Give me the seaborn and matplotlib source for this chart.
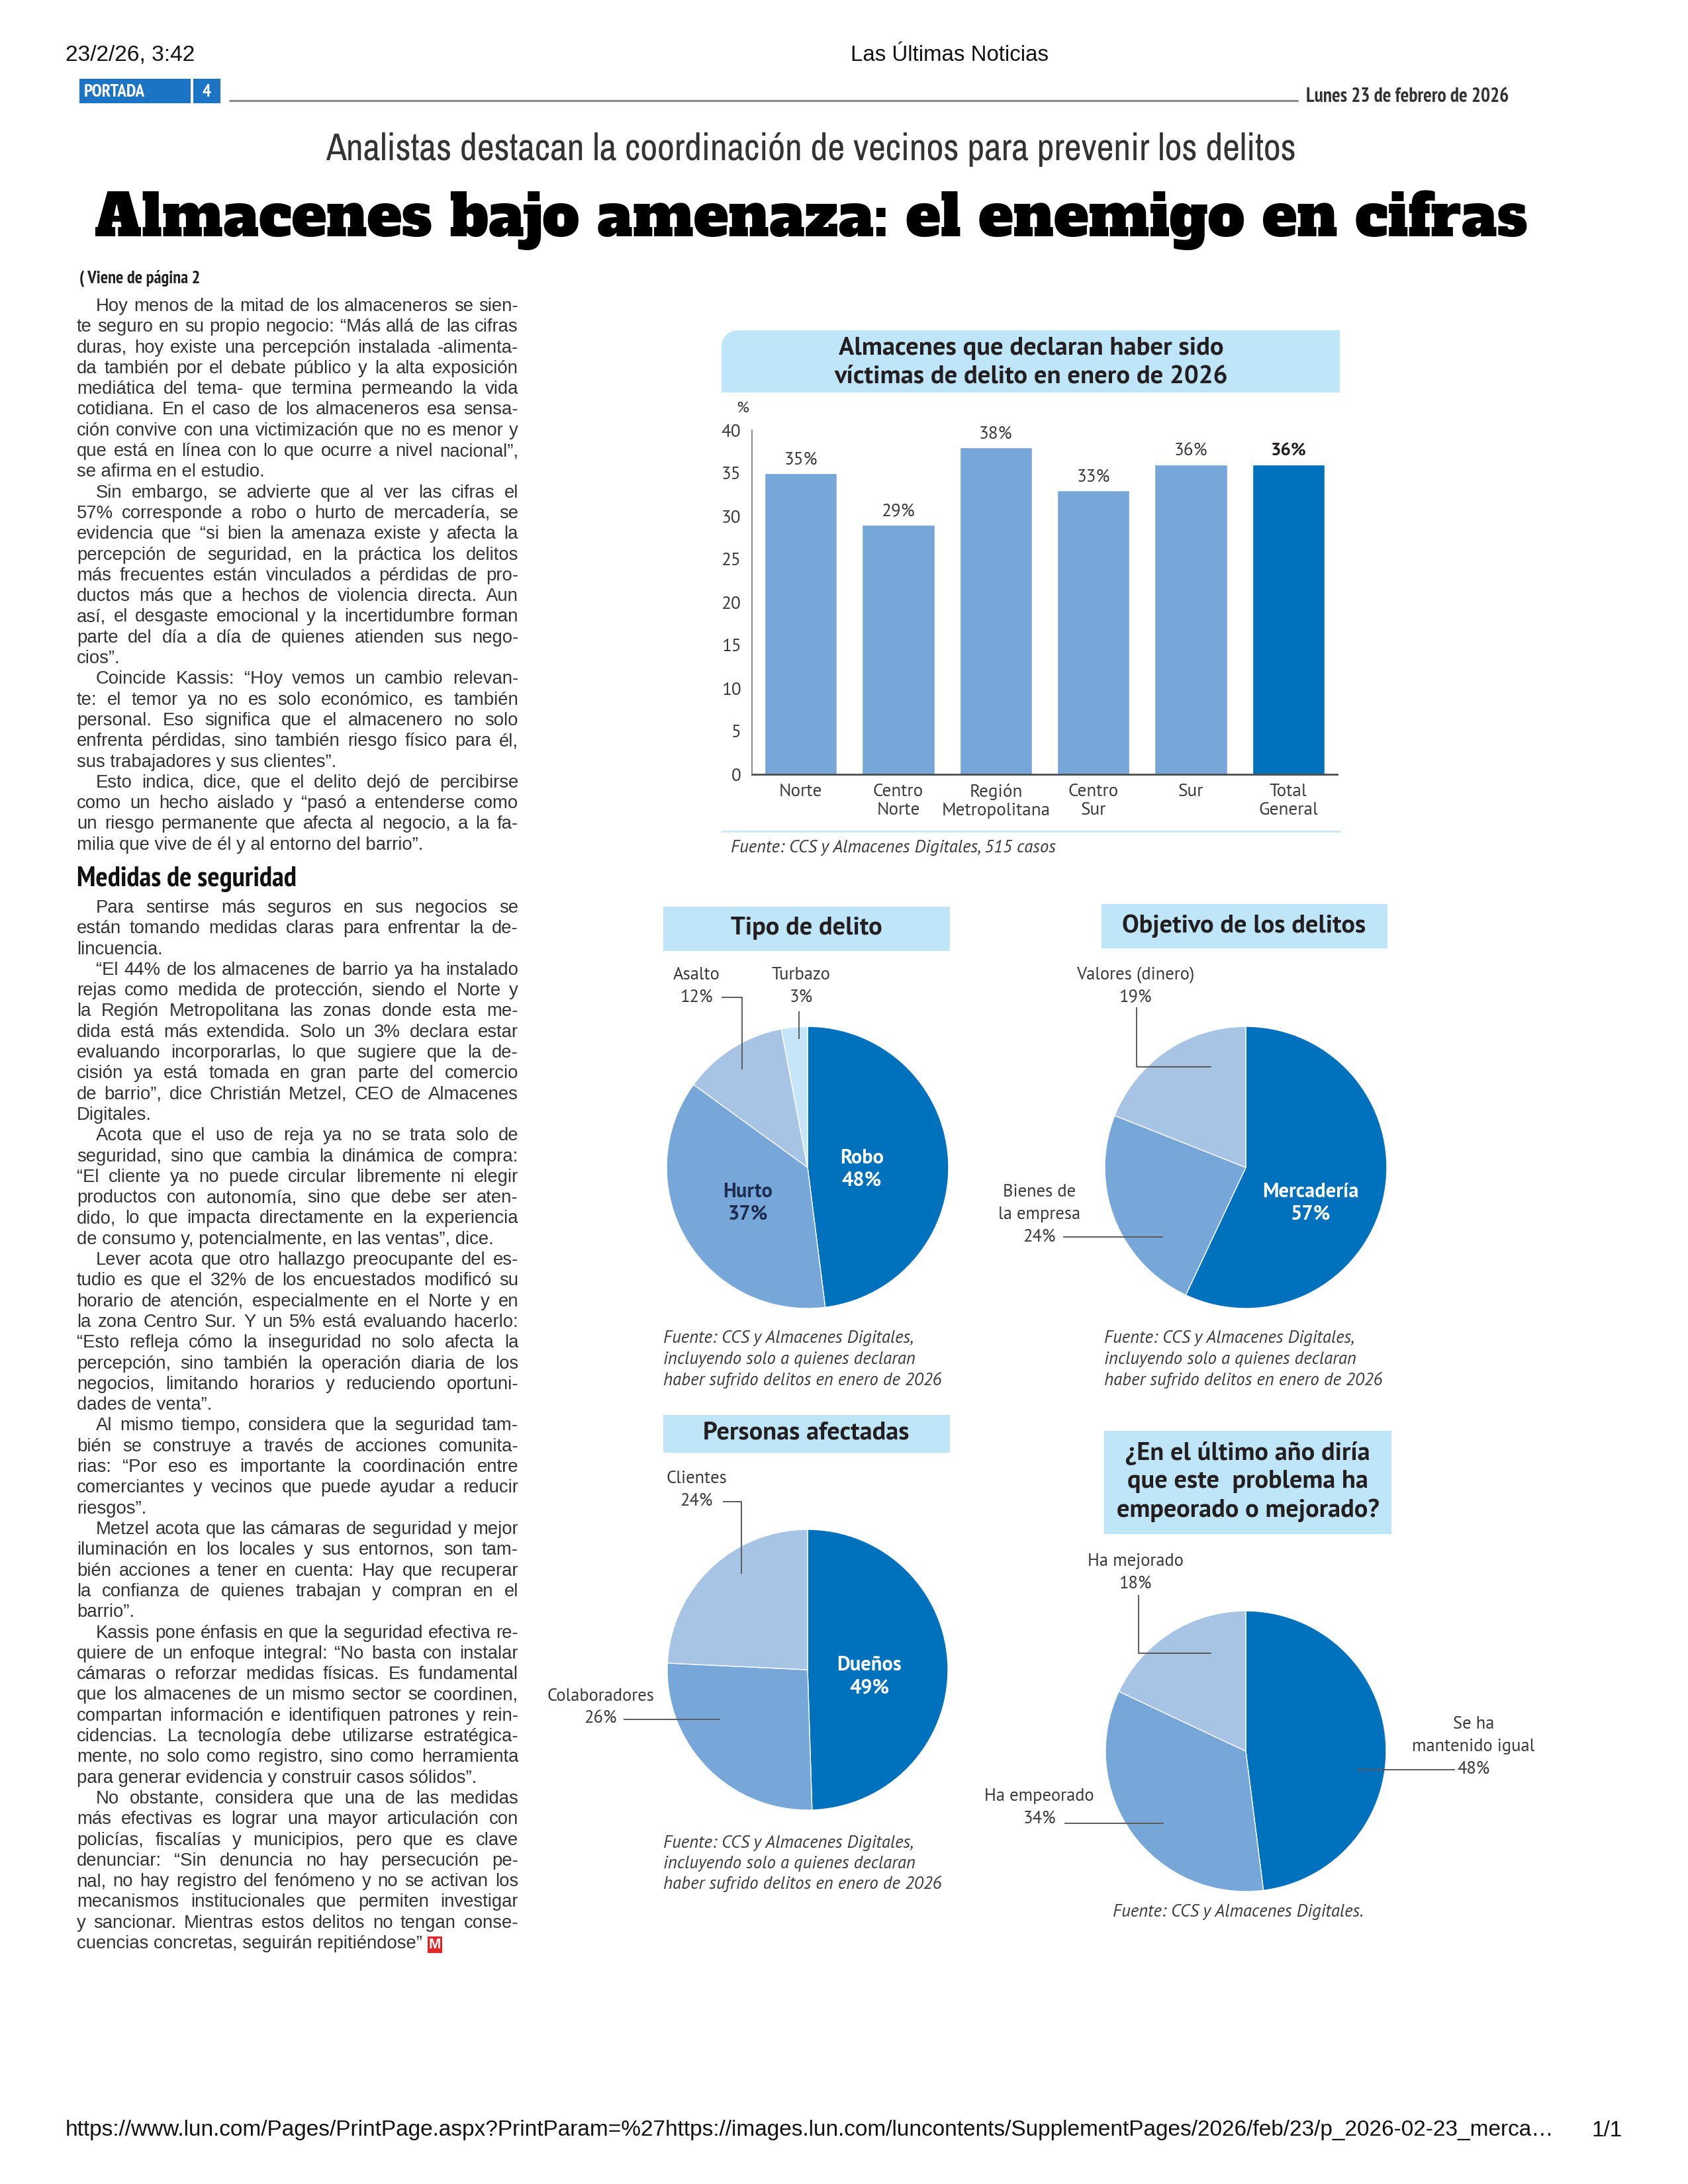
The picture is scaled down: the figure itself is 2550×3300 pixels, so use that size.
import numpy as np
import matplotlib
matplotlib.use("Agg")
import matplotlib.pyplot as plt
import seaborn as sns
from matplotlib.font_manager import FontProperties
from matplotlib.patches import Rectangle, FancyBboxPatch

# ---------------- chart data ----------------
REGIONS = ["Norte", "Centro\nNorte", "Región\nMetropolitana", "Centro\nSur", "Sur", "Total\nGeneral"]
VICTIM_PCT = [35, 29, 38, 33, 36, 36]

CRIME_TYPES = ["Robo", "Hurto", "Asalto", "Turbazo"]
CRIME_PCT = [48, 37, 12, 3]

TARGETS = ["Mercadería", "Bienes de\nla empresa", "Valores (dinero)"]
TARGET_PCT = [57, 24, 19]

AFFECTED = ["Dueños", "Colaboradores", "Clientes"]
AFFECTED_PCT = [49, 26, 24]

TREND = ["Se ha\nmantenido igual", "Ha empeorado", "Ha mejorado"]
TREND_PCT = [48, 34, 18]

# ---------------- colours / fonts ----------------
INK = "#3a3a3a"
TITLE_INK = "#231f20"
BODY = "#333333"
LIGHT = "#77a7d9"
DARK = "#0071bc"
PALE = "#a8c4e4"
PALEST = "#c6e5f8"
BOX = "#bee5f8"
AXIS = "#4d4d4d"
LEADER = "#5a5a5a"
HURTO_INK = "#1d2d50"

SANS = ["Liberation Sans", "DejaVu Sans"]
NARROW = ["PT Sans Narrow", "Liberation Sans", "DejaVu Sans"]
NARROW_LIGHT = ["Archivo Narrow", "PT Sans Narrow", "Liberation Sans"]
CHART = ["PT Sans", "Lato", "DejaVu Sans"]
SLAB = ["Alfa Slab One", "DejaVu Serif"]

sns.set_style("white")
plt.rcParams["font.family"] = CHART

W, H = 2550, 3300
fig = plt.figure(figsize=(W / 100, H / 100), dpi=100)
fig.patch.set_facecolor("white")
renderer = fig.canvas.get_renderer()

page = fig.add_axes([0, 0, 1, 1], zorder=5)
page.set_xlim(0, W)
page.set_ylim(H, 0)
page.axis("off")
page.patch.set_alpha(0)


def px_box(x0, y0, x1, y1):
    return [x0 / W, 1 - y1 / H, (x1 - x0) / W, (y1 - y0) / H]


def tw(s, size, family, weight="normal", style="normal"):
    fp = FontProperties(family=family, size=size, weight=weight, style=style)
    return renderer.get_text_width_height_descent(s, fp, ismath=False)[0]


def fit(s, width, family, weight="normal", style="normal"):
    return 100 * width / tw(s, 100, family, weight, style)


def put(x, y, s, size, family=CHART, weight="normal", style="normal",
        color=INK, ha="center", va="center", **kw):
    return page.text(x, y, s, fontsize=size, family=family, fontweight=weight,
                     fontstyle=style, color=color, ha=ha, va=va, **kw)


def stack(x, y0, dy, lines, size, **kw):
    for k, s in enumerate(lines):
        put(x, y0 + k * dy, s, size, **kw)


def leader(xs, ys):
    page.plot(xs, ys, color=LEADER, lw=1.4, solid_capstyle="butt")


def title_box(x0, y0, x1, y1):
    page.add_patch(Rectangle((x0, y0), x1 - x0, y1 - y0, color=BOX, lw=0))


# ---------------- page header ----------------
s = "23/2/26, 3:42"
put(99, 92, s, fit(s, 196, SANS), SANS, color="#111", ha="left", va="baseline")
s = "Las Últimas Noticias"
put(1435, 92, s, fit(s, 299, SANS), SANS, color="#111", va="baseline")

page.add_patch(Rectangle((120, 119), 168, 37, color="#1b74c4", lw=0))
page.add_patch(Rectangle((292, 119), 41, 37, color="#1b74c4", lw=0))
tag = fit("PORTADA", 92, NARROW, "bold")
put(127, 139, "PORTADA", tag, NARROW, "bold", color="white", ha="left")
put(312, 139, "4", tag, NARROW, "bold", color="white")
page.plot([347, 1960], [152, 152], color="#8a8a8a", lw=2.2)
s = "Lunes 23 de febrero de 2026"
put(1973, 146, s, fit(s, 306, NARROW, "bold"), NARROW, "bold", color="#333", ha="left")

s = "Analistas destacan la coordinación de vecinos para prevenir los delitos"
put(1225, 242, s, fit(s, 1467, NARROW_LIGHT), NARROW_LIGHT, color="#333", va="baseline")
s = "Almacenes bajo amenaza: el enemigo en cifras"
put(1225, 357, s, fit(s, 2165, SLAB, "bold"), SLAB, "bold", color="black", va="baseline")

s = "( Viene de página 2"
put(120, 421, s, fit(s, 183, NARROW, "bold"), NARROW, "bold", color="#222", ha="left")

# ---------------- article text ----------------
ARTICLE_A = [
    ["Hoy menos de la mitad de los almaceneros se sien-",
     "te seguro en su propio negocio: “Más allá de las cifras",
     "duras, hoy existe una percepción instalada -alimenta-",
     "da también por el debate público y la alta exposición",
     "mediática del tema- que termina permeando la vida",
     "cotidiana. En el caso de los almaceneros esa sensa-",
     "ción convive con una victimización que no es menor y",
     "que está en línea con lo que ocurre a nivel nacional”,",
     "se afirma en el estudio."],
    ["Sin embargo, se advierte que al ver las cifras el",
     "57% corresponde a robo o hurto de mercadería, se",
     "evidencia que “si bien la amenaza existe y afecta la",
     "percepción de seguridad, en la práctica los delitos",
     "más frecuentes están vinculados a pérdidas de pro-",
     "ductos más que a hechos de violencia directa. Aun",
     "así, el desgaste emocional y la incertidumbre forman",
     "parte del día a día de quienes atienden sus nego-",
     "cios”."],
    ["Coincide Kassis: “Hoy vemos un cambio relevan-",
     "te: el temor ya no es solo económico, es también",
     "personal.  Eso significa que el almacenero no solo",
     "enfrenta pérdidas, sino también riesgo físico para él,",
     "sus trabajadores y sus clientes”."],
    ["Esto indica, dice, que el delito dejó de percibirse",
     "como un hecho aislado y “pasó a entenderse como",
     "un riesgo permanente que afecta al negocio, a la fa-",
     "milia que vive de él y al entorno del barrio”."],
]
ARTICLE_B = [
    ["Para sentirse más seguros en sus negocios se",
     "están tomando medidas claras para enfrentar la de-",
     "lincuencia."],
    ["“El 44% de los almacenes de barrio ya ha instalado",
     "rejas como medida de protección, siendo el Norte y",
     "la Región Metropolitana las zonas donde esta me-",
     "dida está más extendida. Solo un 3% declara estar",
     "evaluando incorporarlas, lo que sugiere que la de-",
     "cisión ya está tomada en gran parte del comercio",
     "de barrio”, dice Christián Metzel, CEO de Almacenes",
     "Digitales."],
    ["Acota que el uso de reja ya no se trata solo de",
     "seguridad, sino que cambia la dinámica de compra:",
     "“El cliente ya no puede circular libremente ni elegir",
     "productos con autonomía, sino que debe ser aten-",
     "dido, lo que impacta directamente en la experiencia",
     "de consumo y, potencialmente, en las ventas”, dice."],
    ["Lever acota que otro hallazgo preocupante del es-",
     "tudio es que el 32% de los encuestados modificó su",
     "horario de atención, especialmente en el Norte y en",
     "la zona Centro Sur. Y un 5% está evaluando hacerlo:",
     "“Esto refleja cómo la inseguridad no solo afecta la",
     "percepción, sino también la operación diaria de los",
     "negocios, limitando horarios y reduciendo oportuni-",
     "dades de venta”."],
    ["Al mismo tiempo, considera que la seguridad tam-",
     "bién se construye a través de acciones comunita-",
     "rias: “Por eso es importante la coordinación entre",
     "comerciantes y vecinos que puede ayudar a reducir",
     "riesgos”."],
    ["Metzel acota que las cámaras de seguridad y mejor",
     "iluminación en los locales y sus entornos, son tam-",
     "bién acciones a tener en cuenta: Hay que recuperar",
     "la confianza de quienes trabajan y compran en el",
     "barrio”."],
    ["Kassis pone énfasis en que la seguridad efectiva re-",
     "quiere de un enfoque integral: “No basta con instalar",
     "cámaras o reforzar medidas físicas. Es fundamental",
     "que los almacenes de un mismo sector se coordinen,",
     "compartan información e identifiquen patrones y rein-",
     "cidencias. La tecnología debe utilizarse estratégica-",
     "mente, no solo como registro, sino como herramienta",
     "para generar evidencia y construir casos sólidos”."],
    ["No obstante, considera que una de las medidas",
     "más efectivas es lograr una mayor articulación con",
     "policías, fiscalías y municipios, pero que es clave",
     "denunciar: “Sin denuncia no hay persecución pe-",
     "nal, no hay registro del fenómeno y no se activan los",
     "mecanismos institucionales que permiten investigar",
     "y sancionar. Mientras estos delitos no tengan conse-",
     "cuencias concretas, seguirán repitiéndose”"],
]

COL_X0, COL_X1, INDENT, LINE_H = 116, 783, 29, 31.3
COL_W = COL_X1 - COL_X0

ratios = []
for para in ARTICLE_A + ARTICLE_B:
    for k, line in enumerate(para):
        ratios.append(tw(line, 20, SANS) / (COL_W - (INDENT if k == 0 else 0)))
body_size = 20 / max(ratios)
BASE_OFF = 7


def draw_block(y0, paras):
    y = y0
    x_end = COL_X0
    for para in paras:
        for k, line in enumerate(para):
            x0 = COL_X0 + (INDENT if k == 0 else 0)
            avail = COL_X1 - x0
            last = k == len(para) - 1
            natural = tw(line, body_size, SANS)
            if last and natural < 0.96 * avail:
                put(x0, y + BASE_OFF, line, body_size, SANS, color=BODY, ha="left", va="baseline")
                x_end = x0 + natural
            else:
                words = line.split()
                ws = [tw(w, body_size, SANS) for w in words]
                gap = (avail - sum(ws)) / max(len(words) - 1, 1)
                x = x0
                for w, wd in zip(words, ws):
                    put(x, y + BASE_OFF, w, body_size, SANS, color=BODY, ha="left", va="baseline")
                    x += wd + gap
                x_end = COL_X1
            y += LINE_H
    return x_end, y - LINE_H


draw_block(463, ARTICLE_A)
s = "Medidas de seguridad"
put(COL_X0, 1328, s, fit(s, 332, NARROW, "bold"), NARROW, "bold", color="#111", ha="left")
x_end, y_last = draw_block(1372, ARTICLE_B)
put(x_end + 10, y_last + BASE_OFF, "M", body_size * 0.8, SANS, "bold", color="white",
    ha="left", va="baseline", bbox=dict(facecolor="#e3262a", edgecolor="none", pad=1.5))

# ---------------- chart font sizes ----------------
CAT_SIZE = fit("Metropolitana", 164, CHART)
LAB_SIZE = fit("Valores (dinero)", 179, CHART)
IN_SIZE = fit("Mercadería", 145, CHART, "bold")
SRC_SIZE = fit("haber sufrido delitos en enero de 2026", 421, CHART, style="italic")
BAR_TITLE = fit("Almacenes que declaran haber sido", 582, CHART, "bold")
PIE_TITLE = fit("Objetivo de los delitos", 368, CHART, "bold")

# ---------------- bar chart ----------------
page.add_patch(FancyBboxPatch((1090, 499), 934, 94, boxstyle="round,pad=0,rounding_size=28",
                              color=BOX, lw=0))
page.add_patch(Rectangle((1557, 499), 467, 94, color=BOX, lw=0))
page.add_patch(Rectangle((1090, 546), 934, 47, color=BOX, lw=0))
stack(1558, 526, 43, ["Almacenes que declaran haber sido", "víctimas de delito en enero de 2026"],
      BAR_TITLE, weight="bold", color=TITLE_INK)

ax = fig.add_axes(px_box(1136, 650, 2020, 1170))
bar_colors = [LIGHT] * (len(REGIONS) - 1) + [DARK]
sns.barplot(x=REGIONS, y=VICTIM_PCT, hue=REGIONS, palette=bar_colors, legend=False,
            width=0.74, saturation=1, ax=ax, zorder=3)
for i, cont in enumerate(ax.containers):
    ax.bar_label(cont, labels=[f"{VICTIM_PCT[i]}%"], padding=6, fontsize=CAT_SIZE,
                 color=TITLE_INK if i == len(REGIONS) - 1 else INK,
                 fontweight="bold" if i == len(REGIONS) - 1 else "normal")
ax.set_xlim(-0.5, len(REGIONS) - 0.5)
ax.set_ylim(0, 40)
ax.set_yticks(np.arange(0, 41, 5))
ax.set_xlabel("")
ax.set_ylabel("")
sns.despine(ax=ax)
ax.spines["left"].set_color("#8a8a8a")
ax.spines["left"].set_linewidth(1.4)
ax.spines["bottom"].set_color(AXIS)
ax.spines["bottom"].set_linewidth(2.0)
ax.spines["bottom"].set_zorder(4)
ax.tick_params(axis="y", direction="in", length=15, width=1.3, color="#8a8a8a",
               labelsize=CAT_SIZE, labelcolor=INK, pad=12)
ax.tick_params(axis="x", which="major", length=0, labelsize=CAT_SIZE, labelcolor=INK, pad=10)
ax.set_xticks(np.arange(0.5, len(REGIONS), 1), minor=True)
ax.tick_params(axis="x", which="minor", direction="in", length=9, width=1.4, color=AXIS)
put(1122, 618, "%", CAT_SIZE * 0.9, color=INK)
page.plot([1090, 2024], [1256, 1256], color="#cfe9f7", lw=2.2)
s = "Fuente: CCS y Almacenes Digitales, 515 casos"
put(1104, 1281, s, SRC_SIZE, style="italic", color=INK, ha="left")


# ---------------- pies ----------------
def draw_pie(cx, cy, r, values, colors):
    a = fig.add_axes(px_box(cx - r, cy - r, cx + r, cy + r), zorder=2)
    a.pie(values, colors=colors, startangle=90, counterclock=False,
          wedgeprops=dict(linewidth=1, edgecolor="white"))
    a.set_xlim(-1, 1)
    a.set_ylim(-1, 1)
    a.set_aspect("equal")
    a.axis("off")
    return a


SRC_LINES = ["Fuente: CCS y Almacenes Digitales,",
             "incluyendo solo a quienes declaran",
             "haber sufrido delitos en enero de 2026"]

# Tipo de delito
title_box(1002, 1370, 1435, 1437)
put(1218, 1403, "Tipo de delito", PIE_TITLE, weight="bold", color=TITLE_INK)
draw_pie(1220, 1764, 213, CRIME_PCT, [DARK, LIGHT, PALE, PALEST])
stack(1302, 1750, 34, [CRIME_TYPES[0], f"{CRIME_PCT[0]}%"], IN_SIZE, weight="bold", color="white")
stack(1130, 1801, 34, [CRIME_TYPES[1], f"{CRIME_PCT[1]}%"], IN_SIZE, weight="bold", color=HURTO_INK)
stack(1052, 1473, 34, [CRIME_TYPES[2], f"{CRIME_PCT[2]}%"], LAB_SIZE)
stack(1210, 1473, 34, [CRIME_TYPES[3], f"{CRIME_PCT[3]}%"], LAB_SIZE)
leader([1090, 1121, 1121], [1507, 1507, 1616])
leader([1207, 1207], [1528, 1570])
stack(1002, 2022, 32, SRC_LINES, SRC_SIZE, style="italic", ha="left")

# Objetivo de los delitos
title_box(1664, 1366, 2096, 1433)
put(1879, 1399, "Objetivo de los delitos", PIE_TITLE, weight="bold", color=TITLE_INK)
draw_pie(1882, 1764, 213, TARGET_PCT, [DARK, LIGHT, PALE])
stack(1980, 1801, 34, [TARGETS[0], f"{TARGET_PCT[0]}%"], IN_SIZE, weight="bold", color="white")
stack(1570, 1801, 34, TARGETS[1].split("\n") + [f"{TARGET_PCT[1]}%"], LAB_SIZE)
stack(1715, 1473, 34, [TARGETS[2], f"{TARGET_PCT[2]}%"], LAB_SIZE)
leader([1717, 1717, 1830], [1522, 1612, 1612])
leader([1606, 1757], [1869, 1869])
stack(1668, 2022, 32, SRC_LINES, SRC_SIZE, style="italic", ha="left")

# Personas afectadas
title_box(1002, 2138, 1435, 2195)
put(1218, 2165, "Personas afectadas", PIE_TITLE, weight="bold", color=TITLE_INK)
draw_pie(1220, 2523, 212, AFFECTED_PCT, [DARK, LIGHT, PALE])
stack(1313, 2516, 34, [AFFECTED[0], f"{AFFECTED_PCT[0]}%"], IN_SIZE, weight="bold", color="white")
stack(907, 2563, 34, [AFFECTED[1], f"{AFFECTED_PCT[1]}%"], LAB_SIZE)
stack(1052, 2234, 34, [AFFECTED[2], f"{AFFECTED_PCT[2]}%"], LAB_SIZE)
leader([1092, 1120, 1120], [2269, 2269, 2378])
leader([942, 1088], [2598, 2598])
stack(1002, 2785, 31, SRC_LINES, SRC_SIZE, style="italic", ha="left")

# ¿En el último año...?
title_box(1668, 2162, 2102, 2318)
stack(1885, 2196, 43, ["¿En el último año diría", "que este  problema ha", "empeorado o mejorado?"],
      PIE_TITLE, weight="bold", color=TITLE_INK)
draw_pie(1882, 2646, 212, TREND_PCT, [DARK, LIGHT, PALE])
stack(2226, 2605, 34, TREND[0].split("\n") + [f"{TREND_PCT[0]}%"], LAB_SIZE)
stack(1570, 2714, 34, [TREND[1], f"{TREND_PCT[1]}%"], LAB_SIZE)
stack(1715, 2359, 34, [TREND[2], f"{TREND_PCT[2]}%"], LAB_SIZE)
leader([2050, 2198], [2674, 2674])
leader([1608, 1758], [2755, 2755])
leader([1720, 1720, 1830], [2410, 2498, 2498])
put(1870, 2889, "Fuente: CCS y Almacenes Digitales.", SRC_SIZE, style="italic")

# ---------------- page footer ----------------
s = "https://www.lun.com/Pages/PrintPage.aspx?PrintParam=%27https://images.lun.com/luncontents/SupplementPages/2026/feb/23/p_2026-02-23_merca…"
foot = fit(s, 2251, SANS)
put(99, 3219, s, foot, SANS, color="#111", ha="left")
put(2428, 3219, "1/1", foot, SANS, color="#111")

fig.savefig("out.png", dpi=100)
